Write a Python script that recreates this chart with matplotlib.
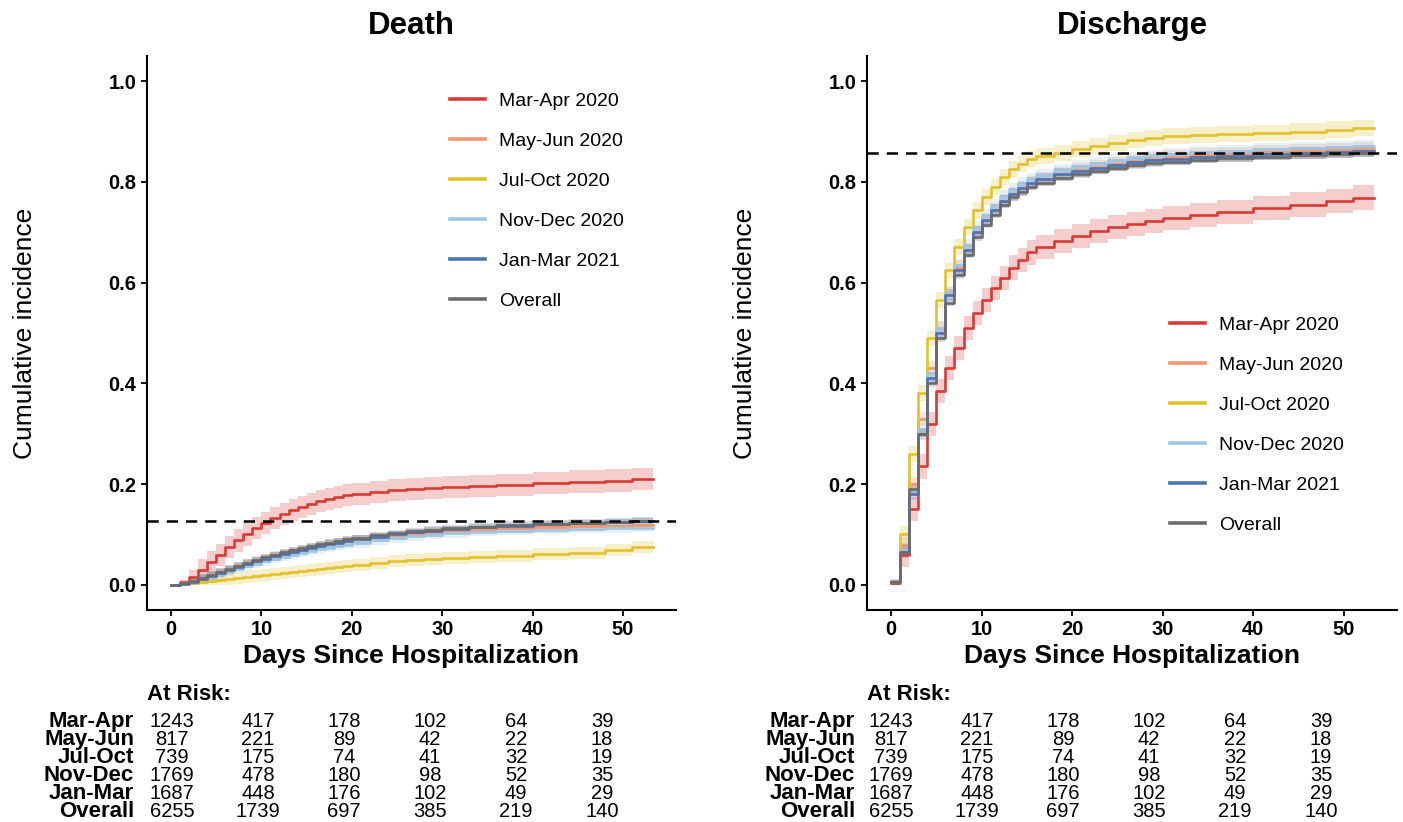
import numpy as np
import matplotlib
matplotlib.use("Agg")
import matplotlib.pyplot as plt
from matplotlib.lines import Line2D

plt.rcParams['font.family'] = ['Liberation Sans', 'DejaVu Sans']

W, H = 1403, 822

# ---------------- data ----------------
groups = ["Mar-Apr 2020", "May-Jun 2020", "Jul-Oct 2020", "Nov-Dec 2020", "Jan-Mar 2021", "Overall"]
short_groups = ["Mar-Apr", "May-Jun", "Jul-Oct", "Nov-Dec", "Jan-Mar", "Overall"]
colors = ["#D93A34", "#F4956A", "#E3C12B", "#9EC6E2", "#4A74B6", "#6B6B6B"]

follow_up_end = 53.3

death_days = [0, 1, 2, 3, 4, 5, 6, 7, 8, 9, 10, 11, 12, 13, 14, 15, 16, 17, 18, 19, 20,
              22, 24, 26, 28, 30, 33, 36, 40, 44, 48, 51]
death_mar_apr = [0, 0.005, 0.015, 0.03, 0.045, 0.06, 0.075, 0.088, 0.10, 0.112, 0.122, 0.132, 0.14,
                 0.148, 0.155, 0.161, 0.166, 0.17, 0.174, 0.178, 0.181, 0.185, 0.189, 0.19, 0.192,
                 0.194, 0.196, 0.199, 0.202, 0.205, 0.207, 0.21]
death_may_jun = [0, 0.003, 0.008, 0.013, 0.019, 0.025, 0.031, 0.037, 0.043, 0.048, 0.053, 0.058, 0.062,
                 0.066, 0.07, 0.074, 0.078, 0.081, 0.084, 0.087, 0.09, 0.094, 0.098, 0.101, 0.104,
                 0.107, 0.11, 0.112, 0.114, 0.116, 0.117, 0.118]
death_jul_oct = [0, 0.002, 0.004, 0.006, 0.008, 0.01, 0.012, 0.014, 0.016, 0.018, 0.02, 0.022, 0.024,
                 0.026, 0.028, 0.03, 0.032, 0.034, 0.036, 0.038, 0.04, 0.043, 0.047, 0.05, 0.051,
                 0.053, 0.055, 0.058, 0.061, 0.064, 0.07, 0.075]
death_nov_dec = [0, 0.002, 0.006, 0.011, 0.016, 0.021, 0.027, 0.032, 0.037, 0.042, 0.047, 0.052, 0.056,
                 0.06, 0.064, 0.068, 0.071, 0.074, 0.077, 0.08, 0.083, 0.088, 0.092, 0.096, 0.099,
                 0.102, 0.105, 0.107, 0.109, 0.111, 0.112, 0.113]
death_jan_mar = [0, 0.002, 0.006, 0.012, 0.018, 0.024, 0.03, 0.036, 0.042, 0.047, 0.052, 0.057, 0.062,
                 0.066, 0.07, 0.074, 0.078, 0.081, 0.084, 0.087, 0.09, 0.095, 0.1, 0.104, 0.107,
                 0.11, 0.114, 0.117, 0.12, 0.122, 0.124, 0.126]
death_overall = [0, 0.003, 0.008, 0.014, 0.02, 0.026, 0.032, 0.038, 0.044, 0.05, 0.055, 0.06, 0.065,
                 0.069, 0.073, 0.077, 0.081, 0.084, 0.087, 0.09, 0.093, 0.098, 0.102, 0.106, 0.109,
                 0.112, 0.115, 0.118, 0.121, 0.123, 0.125, 0.127]
death_ci = [0.022, 0.009, 0.012, 0.009, 0.009, 0.005]
death_ref = 0.127

dis_days = [0, 1, 2, 3, 4, 5, 6, 7, 8, 9, 10, 11, 12, 13, 14, 15, 16,
            18, 20, 22, 24, 26, 28, 30, 33, 36, 40, 44, 48, 51]
dis_mar_apr = [0.004, 0.06, 0.15, 0.235, 0.32, 0.385, 0.43, 0.47, 0.51, 0.54, 0.565, 0.59, 0.61, 0.63,
               0.645, 0.66, 0.67, 0.683, 0.693, 0.702, 0.71, 0.716, 0.722, 0.728, 0.735, 0.741,
               0.748, 0.755, 0.762, 0.769]
dis_may_jun = [0.006, 0.08, 0.2, 0.33, 0.43, 0.51, 0.58, 0.63, 0.665, 0.7, 0.725, 0.745, 0.762, 0.776,
               0.787, 0.797, 0.805, 0.815, 0.823, 0.83, 0.836, 0.841, 0.846, 0.85, 0.853, 0.856,
               0.859, 0.861, 0.863, 0.865]
dis_jul_oct = [0.006, 0.1, 0.26, 0.38, 0.49, 0.565, 0.625, 0.67, 0.71, 0.745, 0.77, 0.79, 0.81, 0.825,
               0.835, 0.845, 0.852, 0.858, 0.865, 0.872, 0.878, 0.883, 0.888, 0.892, 0.894, 0.895,
               0.897, 0.9, 0.904, 0.907]
dis_nov_dec = [0.005, 0.07, 0.19, 0.31, 0.42, 0.51, 0.58, 0.635, 0.675, 0.71, 0.735, 0.755, 0.772, 0.786,
               0.797, 0.806, 0.813, 0.823, 0.831, 0.838, 0.843, 0.848, 0.852, 0.855, 0.859, 0.862,
               0.865, 0.868, 0.87, 0.872]
dis_jan_mar = [0.005, 0.065, 0.18, 0.3, 0.41, 0.5, 0.575, 0.625, 0.665, 0.7, 0.725, 0.745, 0.762, 0.776,
               0.787, 0.797, 0.805, 0.815, 0.822, 0.828, 0.834, 0.839, 0.843, 0.846, 0.849, 0.852,
               0.855, 0.858, 0.86, 0.862]
dis_overall = [0.005, 0.065, 0.19, 0.30, 0.40, 0.49, 0.56, 0.615, 0.655, 0.69, 0.715, 0.735, 0.755, 0.77,
               0.78, 0.79, 0.798, 0.808, 0.815, 0.822, 0.828, 0.833, 0.837, 0.84, 0.844, 0.847,
               0.85, 0.853, 0.855, 0.857]
dis_ci = [0.024, 0.014, 0.016, 0.012, 0.012, 0.007]
dis_ref = 0.857

at_risk_mar_apr = [1243, 417, 178, 102, 64, 39]
at_risk_may_jun = [817, 221, 89, 42, 22, 18]
at_risk_jul_oct = [739, 175, 74, 41, 32, 19]
at_risk_nov_dec = [1769, 478, 180, 98, 52, 35]
at_risk_jan_mar = [1687, 448, 176, 102, 49, 29]
at_risk_overall = [6255, 1739, 697, 385, 219, 140]

x_ticks = [0, 10, 20, 30, 40, 50]
y_ticks = [0.0, 0.2, 0.4, 0.6, 0.8, 1.0]

death_series = [death_mar_apr, death_may_jun, death_jul_oct, death_nov_dec, death_jan_mar, death_overall]
dis_series = [dis_mar_apr, dis_may_jun, dis_jul_oct, dis_nov_dec, dis_jan_mar, dis_overall]
at_risk = [at_risk_mar_apr, at_risk_may_jun, at_risk_jul_oct, at_risk_nov_dec, at_risk_jan_mar, at_risk_overall]

# ---------------- figure ----------------
fig = plt.figure(figsize=(W / 100, H / 100), dpi=100)


def px_axes(left, top, right, bottom):
    return fig.add_axes([left / W, 1 - bottom / H, (right - left) / W, (bottom - top) / H])


ax1 = px_axes(147, 56, 676, 610)
ax2 = px_axes(867, 56, 1397, 610)


def draw_panel(ax, days, series, ci, ref, title, legend_anchor):
    d = np.asarray(list(days) + [follow_up_end], dtype=float)
    for vals, hw, c in zip(series, ci, colors):
        v = np.asarray(list(vals) + [vals[-1]], dtype=float)
        h = np.minimum(hw, v)
        ax.fill_between(d, np.clip(v - h, 0, None), v + h, step='post', color=c, alpha=0.25, lw=0)
    for vals, c, lab in zip(series, colors, groups):
        v = list(vals) + [vals[-1]]
        ax.plot(d, v, drawstyle='steps-post', color=c, lw=1.9, label=lab)
    ax.axhline(ref, color='black', lw=1.8, ls=(0, (4.5, 3.2)))
    ax.set_xlim(-2.66, 55.86)
    ax.set_ylim(-0.05, 1.05)
    ax.set_xticks(x_ticks)
    ax.set_yticks(y_ticks)
    ax.set_yticklabels([f"{t:.1f}" for t in y_ticks])
    for s in ['top', 'right']:
        ax.spines[s].set_visible(False)
    for s in ['left', 'bottom']:
        ax.spines[s].set_linewidth(1.5)
    ax.tick_params(axis='both', length=4.5, width=1.3, labelsize=14.5, pad=3)
    for lbl in ax.get_xticklabels() + ax.get_yticklabels():
        lbl.set_fontweight('bold')
    ax.set_title(title, fontsize=22.5, fontweight='bold', pad=16)
    ax.set_xlabel("Days Since Hospitalization", fontsize=19, fontweight='bold', labelpad=3)
    handles = [Line2D([0], [0], color=c, lw=2.6) for c in colors]
    ax.legend(handles, groups, loc='upper left', bbox_to_anchor=legend_anchor, frameon=False,
              fontsize=14, handlelength=1.8, handletextpad=0.72, labelspacing=1.15,
              borderpad=0, borderaxespad=0)


draw_panel(ax1, death_days, death_series, death_ci, death_ref, "Death", (0.573, 0.934))
draw_panel(ax2, dis_days, dis_series, dis_ci, dis_ref, "Discharge", (0.572, 0.530))

fig.text(25 / W, 1 - 333 / H, "Cumulative incidence", rotation=90, fontsize=19, ha='center', va='center')
fig.text(745 / W, 1 - 333 / H, "Cumulative incidence", rotation=90, fontsize=19, ha='center', va='center')


def draw_table(x_label_right, x_first, x_step, x_atrisk):
    fig.text(x_atrisk / W, 1 - 700 / H, "At Risk:", fontsize=16, fontweight='bold', ha='left', va='baseline')
    for r, (name, row) in enumerate(zip(short_groups, at_risk)):
        yb = 1 - (727 + 18 * r) / H
        fig.text(x_label_right / W, yb, name, fontsize=16, fontweight='bold', ha='right', va='baseline')
        for k, n in enumerate(row):
            fig.text((x_first + k * x_step) / W, yb, str(n), fontsize=14.5, ha='center', va='baseline')


draw_table(134, 172, 86, 147)
draw_table(855, 891, 86, 867)

fig.savefig("out.png", dpi=100)
